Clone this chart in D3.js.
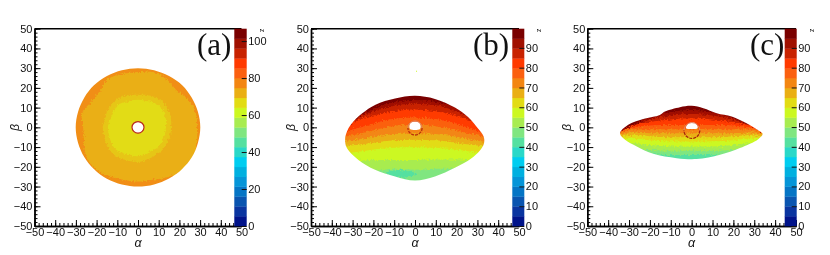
<!DOCTYPE html>
<html>
<head>
<meta charset="utf-8">
<script src="https://cdn.jsdelivr.net/npm/d3@7"></script>
<style>
html, body { margin: 0; padding: 0; background: #fff; }
svg { display: block; filter: blur(0.35px); }
text { font-family: "Liberation Sans", sans-serif; fill: #111; }
</style>
</head>
<body>
<svg id="canvas" width="830" height="255"></svg>
<script>
// palette of the colour bar, bottom to top
var palette = ["#00138a", "#0a35a0", "#0a55b0", "#0575c5", "#0595d8", "#00b0e0", "#00cdf0", "#2ad8c8", "#55e0a0", "#80e680",
    "#a8ec50", "#ccf820", "#e2dc14", "#eaaf14", "#f38612", "#fb6010", "#ff3a00", "#c82200", "#a01000", "#7a0000"]

var axisTicks = [-50, -40, -30, -20, -10, 0, 10, 20, 30, 40, 50]
var minorTicks = d3.range(-50, 51, 2)
var barTicksA = [0, 20, 40, 60, 80, 100]
var barTicksBC = [0, 10, 20, 30, 40, 50, 60, 70, 80, 90]
var zMaxA = 106.7
var zMaxB = 99.7
var zMaxC = 99.7

// panel (a): radii read around the ring, angle 0 = +alpha, counter clockwise
var anglesA = [0, 15, 30, 45, 60, 75, 90, 105, 120, 135, 150, 165, 180, 195, 210, 225, 240, 255, 270, 285, 300, 315, 330, 345]
var outerA = [30.1, 30, 30, 30.2, 30, 30, 30, 30, 30, 30.1, 30, 30, 30.1, 30, 30, 30, 30.1, 30, 30, 30, 30, 30, 30.1, 30]
var amberA = [28.5, 29, 28, 26.5, 28, 29, 28, 28, 28.5, 26, 26, 28, 26.5, 27, 29, 29.5, 28.5, 27.5, 27.5, 27.5, 29, 30.5, 30.5, 29.5]
var softA = [16, 16.5, 17, 17.5, 17.5, 17, 16.5, 17, 17.5, 17.5, 17, 16.5, 17, 17, 17.5, 18, 18, 17.5, 17.5, 17, 16.5, 16.5, 16, 16]
var yellowA = [13.5, 14, 14.5, 15, 14.5, 14, 14, 14, 14.5, 15, 14, 14, 14.5, 14.5, 15, 15.5, 15, 14.5, 14.7, 14, 13.5, 14, 13.5, 13.5]
var levelsA = [14, 13, 12]

// panel (b): outline, and lower edge (beta) of each colour band at edgeAlphas
var edgeAlphas = [-36, -28, -20, -10, 0, 10, 20, 28, 36]
var outlineB = [[-33.6, -6], [-32.8, -2.4], [-30.8, 1.5], [-25.5, 7], [-19, 11.5], [-9.6, 14.6], [0, 16], [9.6, 14.4], [19.2, 10], [25.5, 5.2],
    [30.3, -0.6], [33, -4.7], [33.2, -8], [31, -12], [27, -15.8], [19.2, -20.5], [9.6, -24.9], [0, -27], [-9.6, -24.9], [-19.2, -21.5], [-27.2, -16.5], [-32.8, -10.4]]
var levelsB = [19, 18, 17, 16, 15, 14, 13, 12, 11, 10]
var edgesB = [
    [-2, 5, 9.5, 12.8, 13.8, 13, 10, 5, -2],
    [-3, 4.5, 8, 11, 12, 11.2, 8, 4, -3],
    [-4, 3.5, 6, 8.2, 9, 8.2, 5.8, 2.5, -4],
    [-3, -0.5, 2, 4.3, 5, 4.2, 1.8, -1, -4],
    [-5, -3.5, -1.5, 0.8, 1.5, 0.6, -1.5, -3.5, -5.5],
    [-7, -6.3, -4.8, -3.4, -3, -3.4, -4.8, -6.5, -7.5],
    [-9.5, -9, -7.8, -6.6, -6.3, -6.6, -7.8, -9, -10],
    [-13, -12.5, -11.2, -10.3, -10, -10.3, -11.2, -12.5, -13],
    [-17.5, -17, -16.5, -16.5, -16.5, -16.3, -16.3, -16.5, -17],
    [-22, -22, -22, -21, -21.5, -21, -21, -21, -21.5]]
var baseLevelB = 9
var patchB = [[-14, -23], [-9, -21.6], [-3, -22.2], [1, -23.4], [-2, -25], [-8, -25.4]]
var capB = [[-2.7, 0.5], [-2, 2.3], [0, 2.8], [2, 2.3], [2.7, 0.5], [2.3, -0.9], [-2.3, -0.9]]
var speckB = [0.5, 28.7]

// panel (c)
var outlineC = [[-34.3, -3], [-30.4, 1.3], [-23.2, 4.2], [-15.2, 6.3], [-12.8, 8], [-5.6, 10.2], [0, 10.9], [5.6, 9.7], [12, 7.2], [19.2, 5.5], [26.3, 2.1],
    [31.1, -0.9], [34, -3.3], [31.9, -6], [23.1, -10.5], [13.6, -13.9], [2.4, -16.1], [-7.2, -15.6], [-18.4, -13.4], [-26.3, -9.7], [-31.9, -6.3]]
var levelsC = [19, 18, 17, 16, 15, 14, 13, 12, 11, 10, 9]
var edgesC = [
    [-2, 1.5, 5, 7.8, 8.8, 7.8, 5, 1.5, -2],
    [-3, 1, 4, 6, 6.8, 6, 4, 1, -3],
    [-2, 1, 2.8, 4, 4.6, 4, 2.6, 0.8, -2],
    [-2.5, 0.2, 1, 1.2, 1.2, 1.2, 1, 0, -2.5],
    [-3.5, -1, -1, -1, -1, -1, -1, -1, -3.5],
    [-4, -2.5, -3, -3, -3, -3, -3, -2.5, -4],
    [-5, -3.8, -4.5, -5, -5, -5, -4.5, -4, -5],
    [-6.5, -5.5, -6.5, -7, -7.2, -7, -6.5, -5.5, -6.5],
    [-9, -8, -9, -9.7, -9.7, -9.7, -9, -8, -9],
    [-12, -10.6, -11.5, -11.8, -11.8, -11.8, -11.5, -10.5, -12],
    [-15, -13, -13.5, -14, -14, -14, -13.5, -13, -15]]
var baseLevelC = 8
var capC = [[-2.7, -0.4], [-2.2, 1.2], [-1, 2.2], [0.3, 2.4], [1.6, 2.2], [2.6, 1.2], [2.8, -0.4]]

var svg = d3.select("#canvas")
var top_ = 28.7, bottom = 226

// rough edges on the colour regions, like the binned cells of the original
var defs = svg.append("defs")
var rough = defs.append("filter").attr("id", "rough").attr("x", "-10%").attr("y", "-10%").attr("width", "120%").attr("height", "120%")
rough.append("feTurbulence").attr("type", "fractalNoise").attr("baseFrequency", 0.55).attr("numOctaves", 3).attr("seed", 4).attr("result", "n")
rough.append("feDisplacementMap").attr("in", "SourceGraphic").attr("in2", "n").attr("scale", 5).attr("xChannelSelector", "R").attr("yChannelSelector", "G")

function polar(angles, radii) {
    return angles.map(function(a, i) {
        return [radii[i] * Math.cos(a * Math.PI / 180), radii[i] * Math.sin(a * Math.PI / 180)]
    })
}

function drawAxes(g, x, y) {
    var bottomAxis = function(ticks, size, labels) {
        return d3.axisBottom(x).tickValues(ticks).tickSize(-size).tickSizeOuter(0).tickPadding(2)
            .tickFormat(labels ? d3.format("d") : "")
    }
    var leftAxis = function(ticks, size, labels) {
        return d3.axisLeft(y).tickValues(ticks).tickSize(-size).tickSizeOuter(0).tickPadding(2)
            .tickFormat(labels ? d3.format("d") : "")
    }
    g.append("g").attr("transform", "translate(0," + bottom + ")").call(bottomAxis(minorTicks, 3, false))
    g.append("g").attr("transform", "translate(0," + bottom + ")").call(bottomAxis(axisTicks, 6, true))
    g.append("g").attr("transform", "translate(" + x.range()[0] + ",0)").call(leftAxis(minorTicks, 3, false))
    g.append("g").attr("transform", "translate(" + x.range()[0] + ",0)").call(leftAxis(axisTicks, 6, true))
    g.selectAll(".tick text").style("font-family", "Liberation Sans").style("font-size", "11px").attr("fill", "#111")
    g.selectAll(".tick line, .domain").attr("stroke", "#000").attr("stroke-width", 1)
    g.selectAll(".domain").attr("stroke-width", 1.4)
    g.append("line").attr("x1", x.range()[0]).attr("x2", x.range()[1]).attr("y1", top_).attr("y2", top_)
        .attr("stroke", "#000").attr("stroke-width", 1.4)
}

function drawBar(g, barLeft, barRight, zMax, ticks) {
    var z = d3.scaleLinear().domain([0, zMax]).range([bottom, top_])
    g.selectAll("rect.band").data(palette).enter().append("rect")
        .attr("class", "band")
        .attr("x", barLeft)
        .attr("width", barRight - barLeft)
        .attr("y", function(d, i) { return z((i + 1) * zMax / palette.length) })
        .attr("height", function(d, i) { return z(i * zMax / palette.length) - z((i + 1) * zMax / palette.length) + 0.3 })
        .attr("fill", function(d) { return d })
    var ax = g.append("g").attr("transform", "translate(" + barRight + ",0)")
        .call(d3.axisRight(z).tickValues(ticks).tickSize(-5).tickSizeOuter(0).tickPadding(1.5).tickFormat(d3.format("d")))
    ax.select(".domain").remove()
    ax.selectAll("line").attr("stroke", "#111").attr("stroke-width", 1)
    ax.selectAll("text").style("font-family", "Liberation Sans").style("font-size", "11px").attr("fill", "#111")
    g.append("text").attr("transform", "translate(" + (barRight + 15) + ",30.5) rotate(90)")
        .attr("text-anchor", "middle").attr("dominant-baseline", "middle").style("font-size", "7px").text("z")
}

function drawTitles(g, x, tag, tagX) {
    var mid = x(0)
    g.append("text").attr("x", mid).attr("y", 247).attr("text-anchor", "middle")
        .style("font-style", "italic").style("font-size", "12.5px").text("α")
    g.append("text").attr("transform", "translate(" + (x.range()[0] - 16) + "," + 127.5 + ") rotate(-90)")
        .attr("text-anchor", "middle").style("font-style", "italic").style("font-size", "12.5px").text("β")
    g.append("text").attr("x", tagX).attr("y", 55)
        .style("font-family", "Liberation Serif").style("font-size", "31px").text(tag)
}

// hole ring: thin and light over the top, darker and broken under it
function ring(g, x, y, cx, cy, r, lower) {
    var px = x(r) - x(0)
    var spot = g.append("g").attr("transform", "translate(" + x(cx) + "," + y(cy) + ")")
    var half = function(a0, a1) {
        var p = d3.path()
        p.arc(0, 0, px, a0, a1)
        return p.toString()
    }
    spot.append("path").attr("d", half(Math.PI, Math.PI * 2)).attr("fill", "none").attr("stroke", "#dd8468").attr("stroke-width", 1)
    spot.append("path").attr("d", half(0, Math.PI)).attr("fill", "none").attr("stroke", lower).attr("stroke-width", 1.3)
        .attr("stroke-dasharray", "3 1")
}

function drawPanel(opts) {
    var x = d3.scaleLinear().domain([-50, 50]).range([opts.left, opts.right])
    var y = d3.scaleLinear().domain([-50, 50]).range([bottom, top_])
    var g = svg.append("g")
    var closed = d3.line().curve(d3.curveCatmullRomClosed).x(function(d) { return x(d[0]) }).y(function(d) { return y(d[1]) })
    var clipId = "clip" + opts.tag.charAt(1)
    defs.append("clipPath").attr("id", clipId).append("path").attr("d", closed(opts.outline))
    var heat = g.append("g").attr("clip-path", "url(#" + clipId + ")")
        .append("g").attr("filter", "url(#rough)")
    opts.paint(heat, x, y, closed)
    opts.hole(g, x, y, closed)
    drawAxes(g, x, y)
    drawBar(g, opts.barLeft, opts.barRight, opts.zMax, opts.barTicks)
    drawTitles(g, x, opts.tag, opts.tagX)
}

// (a) concentric regions
drawPanel({
    tag: "(a)", tagX: 197, left: 34.5, right: 241.5, barLeft: 234.3, barRight: 246.7, zMax: zMaxA, barTicks: barTicksA,
    outline: polar(anglesA, outerA),
    paint: function(h, x, y, closed) {
        h.append("rect").attr("x", x(-36)).attr("y", y(36)).attr("width", x(36) - x(-36)).attr("height", y(-36) - y(36))
            .attr("fill", d3.interpolateRgb(palette[levelsA[1]], palette[levelsA[0]])(0.8))
        h.append("path").attr("d", closed(polar(anglesA, amberA))).attr("fill", palette[levelsA[1]])
        h.append("path").attr("d", closed(polar(anglesA, softA))).attr("fill", d3.interpolateRgb(palette[levelsA[1]], palette[levelsA[2]])(0.5))
        h.append("path").attr("d", closed(polar(anglesA, yellowA))).attr("fill", palette[levelsA[2]])
    },
    hole: function(g, x, y) {
        g.append("ellipse").attr("cx", x(0)).attr("cy", y(0)).attr("rx", x(2.9) - x(0)).attr("ry", y(0) - y(2.9))
            .attr("fill", "#fff").attr("stroke", "#b8281c").attr("stroke-width", 1.2)
    }
})

function paintBands(levels, edges, baseLevel) {
    return function(h, x, y) {
        h.append("rect").attr("x", x(-40)).attr("y", y(22)).attr("width", x(40) - x(-40)).attr("height", y(-32) - y(22)).attr("fill", palette[baseLevel])
        var area = d3.area().curve(d3.curveMonotoneX)
            .x(function(d) { return x(d[0]) }).y0(y(22)).y1(function(d) { return y(d[1]) })
        for (var i = levels.length - 1; i >= 0; i--) {
            h.append("path")
                .attr("d", area(edgeAlphas.map(function(a, j) { return [a, edges[i][j]] })))
                .attr("fill", palette[levels[i]])
        }
    }
}

// (b) tilted ellipse with horizontal bands
var paintB = paintBands(levelsB, edgesB, baseLevelB)
drawPanel({
    tag: "(b)", tagX: 473, left: 311, right: 519, barLeft: 512.3, barRight: 524.3, zMax: zMaxB, barTicks: barTicksBC,
    outline: outlineB,
    paint: function(h, x, y, closed) {
        paintB(h, x, y)
        h.append("path").attr("d", closed(patchB)).attr("fill", palette[8])
    },
    hole: function(g, x, y, closed) {
        g.append("path").attr("d", closed(capB)).attr("fill", "#fff")
        ring(g, x, y, 0, -0.3, 3.4, "#b8300c")
        g.append("rect").attr("x", x(speckB[0])).attr("y", y(speckB[1])).attr("width", 1).attr("height", 1).attr("fill", palette[11])
    }
})

// (c) flatter shape
drawPanel({
    tag: "(c)", tagX: 750, left: 587.3, right: 796, barLeft: 784.7, barRight: 796.7, zMax: zMaxC, barTicks: barTicksBC,
    outline: outlineC,
    paint: paintBands(levelsC, edgesC, baseLevelC),
    hole: function(g, x, y, closed) {
        g.append("path").attr("d", closed(capC)).attr("fill", "#fff")
        ring(g, x, y, 0.1, -1.6, 3.8, "#a8200c")
    }
})
</script>
</body>
</html>
